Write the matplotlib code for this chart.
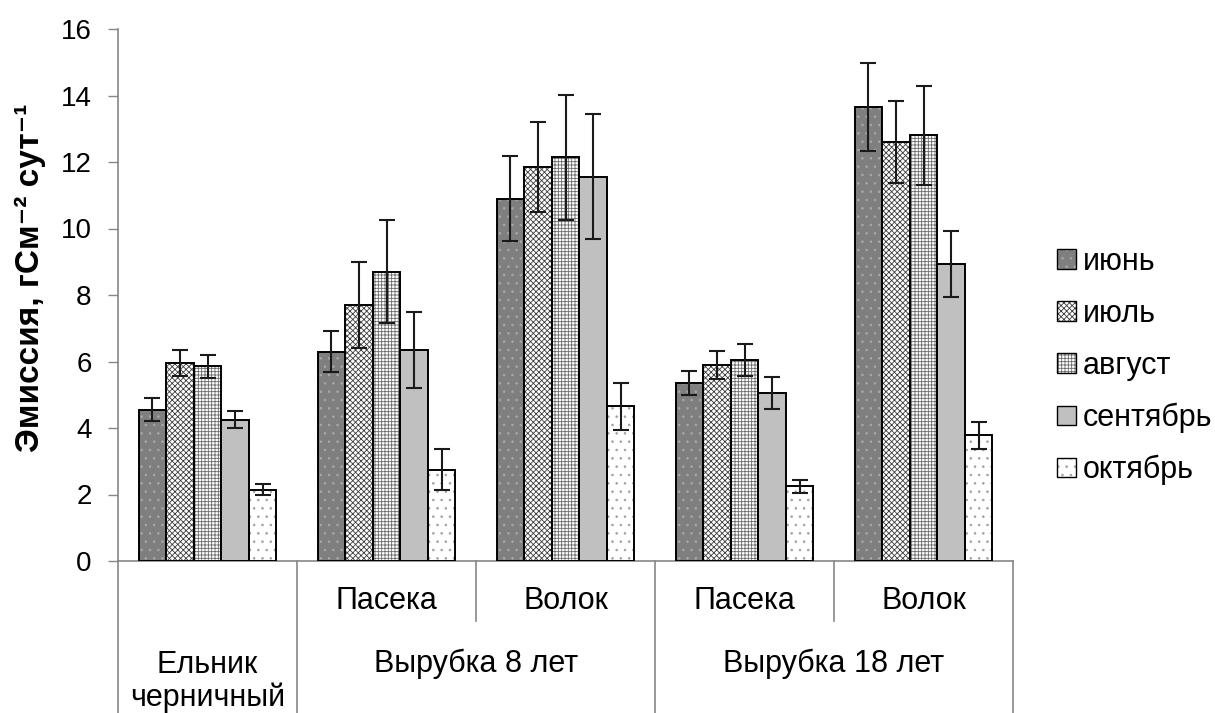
import matplotlib.pyplot as plt
import numpy as np
from matplotlib.patches import Patch

plt.rcParams['font.family'] = ['Liberation Sans', 'DejaVu Sans']
plt.rcParams['hatch.linewidth'] = 0.6

# Data
sites = ['', 'Пасека', 'Волок', 'Пасека', 'Волок']
groups = ['Ельник\nчерничный', 'Вырубка 8 лет', 'Вырубка 18 лет']
months = ['июнь', 'июль', 'август', 'сентябрь', 'октябрь']

june = [4.55, 6.3, 10.9, 5.35, 13.65]
july = [5.95, 7.7, 11.85, 5.9, 12.6]
august = [5.85, 8.7, 12.15, 6.05, 12.8]
september = [4.25, 6.35, 11.55, 5.05, 8.93]
october = [2.15, 2.75, 4.65, 2.25, 3.78]

june_err = [0.35, 0.62, 1.28, 0.36, 1.32]
july_err = [0.4, 1.3, 1.35, 0.42, 1.22]
august_err = [0.35, 1.55, 1.88, 0.48, 1.48]
september_err = [0.25, 1.15, 1.88, 0.48, 1.0]
october_err = [0.17, 0.62, 0.7, 0.2, 0.4]

values = [june, july, august, september, october]
errors = [june_err, july_err, august_err, september_err, october_err]

# fill / hatch styles per month
face = ['#7f7f7f', 'white', 'white', '#c0c0c0', 'white']
hcol = ['#a8a8a8', '#3c3c3c', '#6a6a6a', '#b4b4b4', '#a0a0a0']
hatches = ['..', 'xxxxxx', '+++++', '', '..']

fig = plt.figure(figsize=(12.15, 7.13), dpi=100)
ax = fig.add_axes([118 / 1215, 1 - 561 / 713, (1013 - 118) / 1215, 532 / 713])

x = np.arange(len(sites))
w = 0.154
handles = []
for i in range(5):
    xi = x + (i - 2) * w
    ax.bar(xi, values[i], w, color=face[i], edgecolor=hcol[i], hatch=hatches[i], linewidth=0, zorder=2)
    ax.bar(xi, values[i], w, facecolor='none', edgecolor='black', linewidth=1.4, zorder=3)
    ax.errorbar(xi, values[i], yerr=errors[i], fmt='none', ecolor='#1a1a1a',
                elinewidth=1.5, capsize=6, capthick=1.5, zorder=4)
    handles.append((Patch(facecolor=face[i], edgecolor=hcol[i], hatch=hatches[i], linewidth=0),
                    Patch(facecolor='none', edgecolor='black', linewidth=1.0)))

ax.set_xlim(-0.5, 4.5)
ax.set_ylim(0, 16)
ax.set_yticks(np.arange(0, 17, 2))
ax.tick_params(axis='y', labelsize=20, length=7, width=1, color='#868686', pad=12)
ax.tick_params(axis='x', bottom=False, labelbottom=False)
for s in ['top', 'right']:
    ax.spines[s].set_visible(False)
for s in ['left', 'bottom']:
    ax.spines[s].set_color('#868686')
    ax.spines[s].set_linewidth(1.2)

# category axis table below the plot
tr = ax.get_xaxis_transform()
ax.plot([-0.5, -0.5], [0, -0.29], color='#868686', lw=1.2, transform=tr, clip_on=False)
for b in [0.5, 2.5, 4.5]:
    ax.plot([b, b], [0, -0.29], color='#868686', lw=1.2, transform=tr, clip_on=False)
for b in [1.5, 3.5]:
    ax.plot([b, b], [0, -0.112], color='#868686', lw=1.2, transform=tr, clip_on=False)

fs = 22
for xi, s in zip(x, sites):
    ax.text(xi, -0.075, s, transform=tr, ha='center', va='center', fontsize=fs)
ax.text(0, -0.227, groups[0], transform=tr, ha='center', va='center', fontsize=fs, linespacing=1.1)
ax.text(1.5, -0.194, groups[1], transform=tr, ha='center', va='center', fontsize=fs)
ax.text(3.5, -0.194, groups[2], transform=tr, ha='center', va='center', fontsize=fs)

fig.text(30 / 1215, 1 - 278 / 713, 'Эмиссия, гСм⁻² сут⁻¹', rotation=90,
         ha='center', va='center', fontsize=24, fontweight='bold')

fig.legend(handles, months, loc='center left', bbox_to_anchor=(1045 / 1215, 1 - 366 / 713),
           frameon=False, fontsize=22, handlelength=0.6, handleheight=0.6,
           handletextpad=0.25, labelspacing=0.72, borderaxespad=0)

fig.savefig('out.png', dpi=100)
